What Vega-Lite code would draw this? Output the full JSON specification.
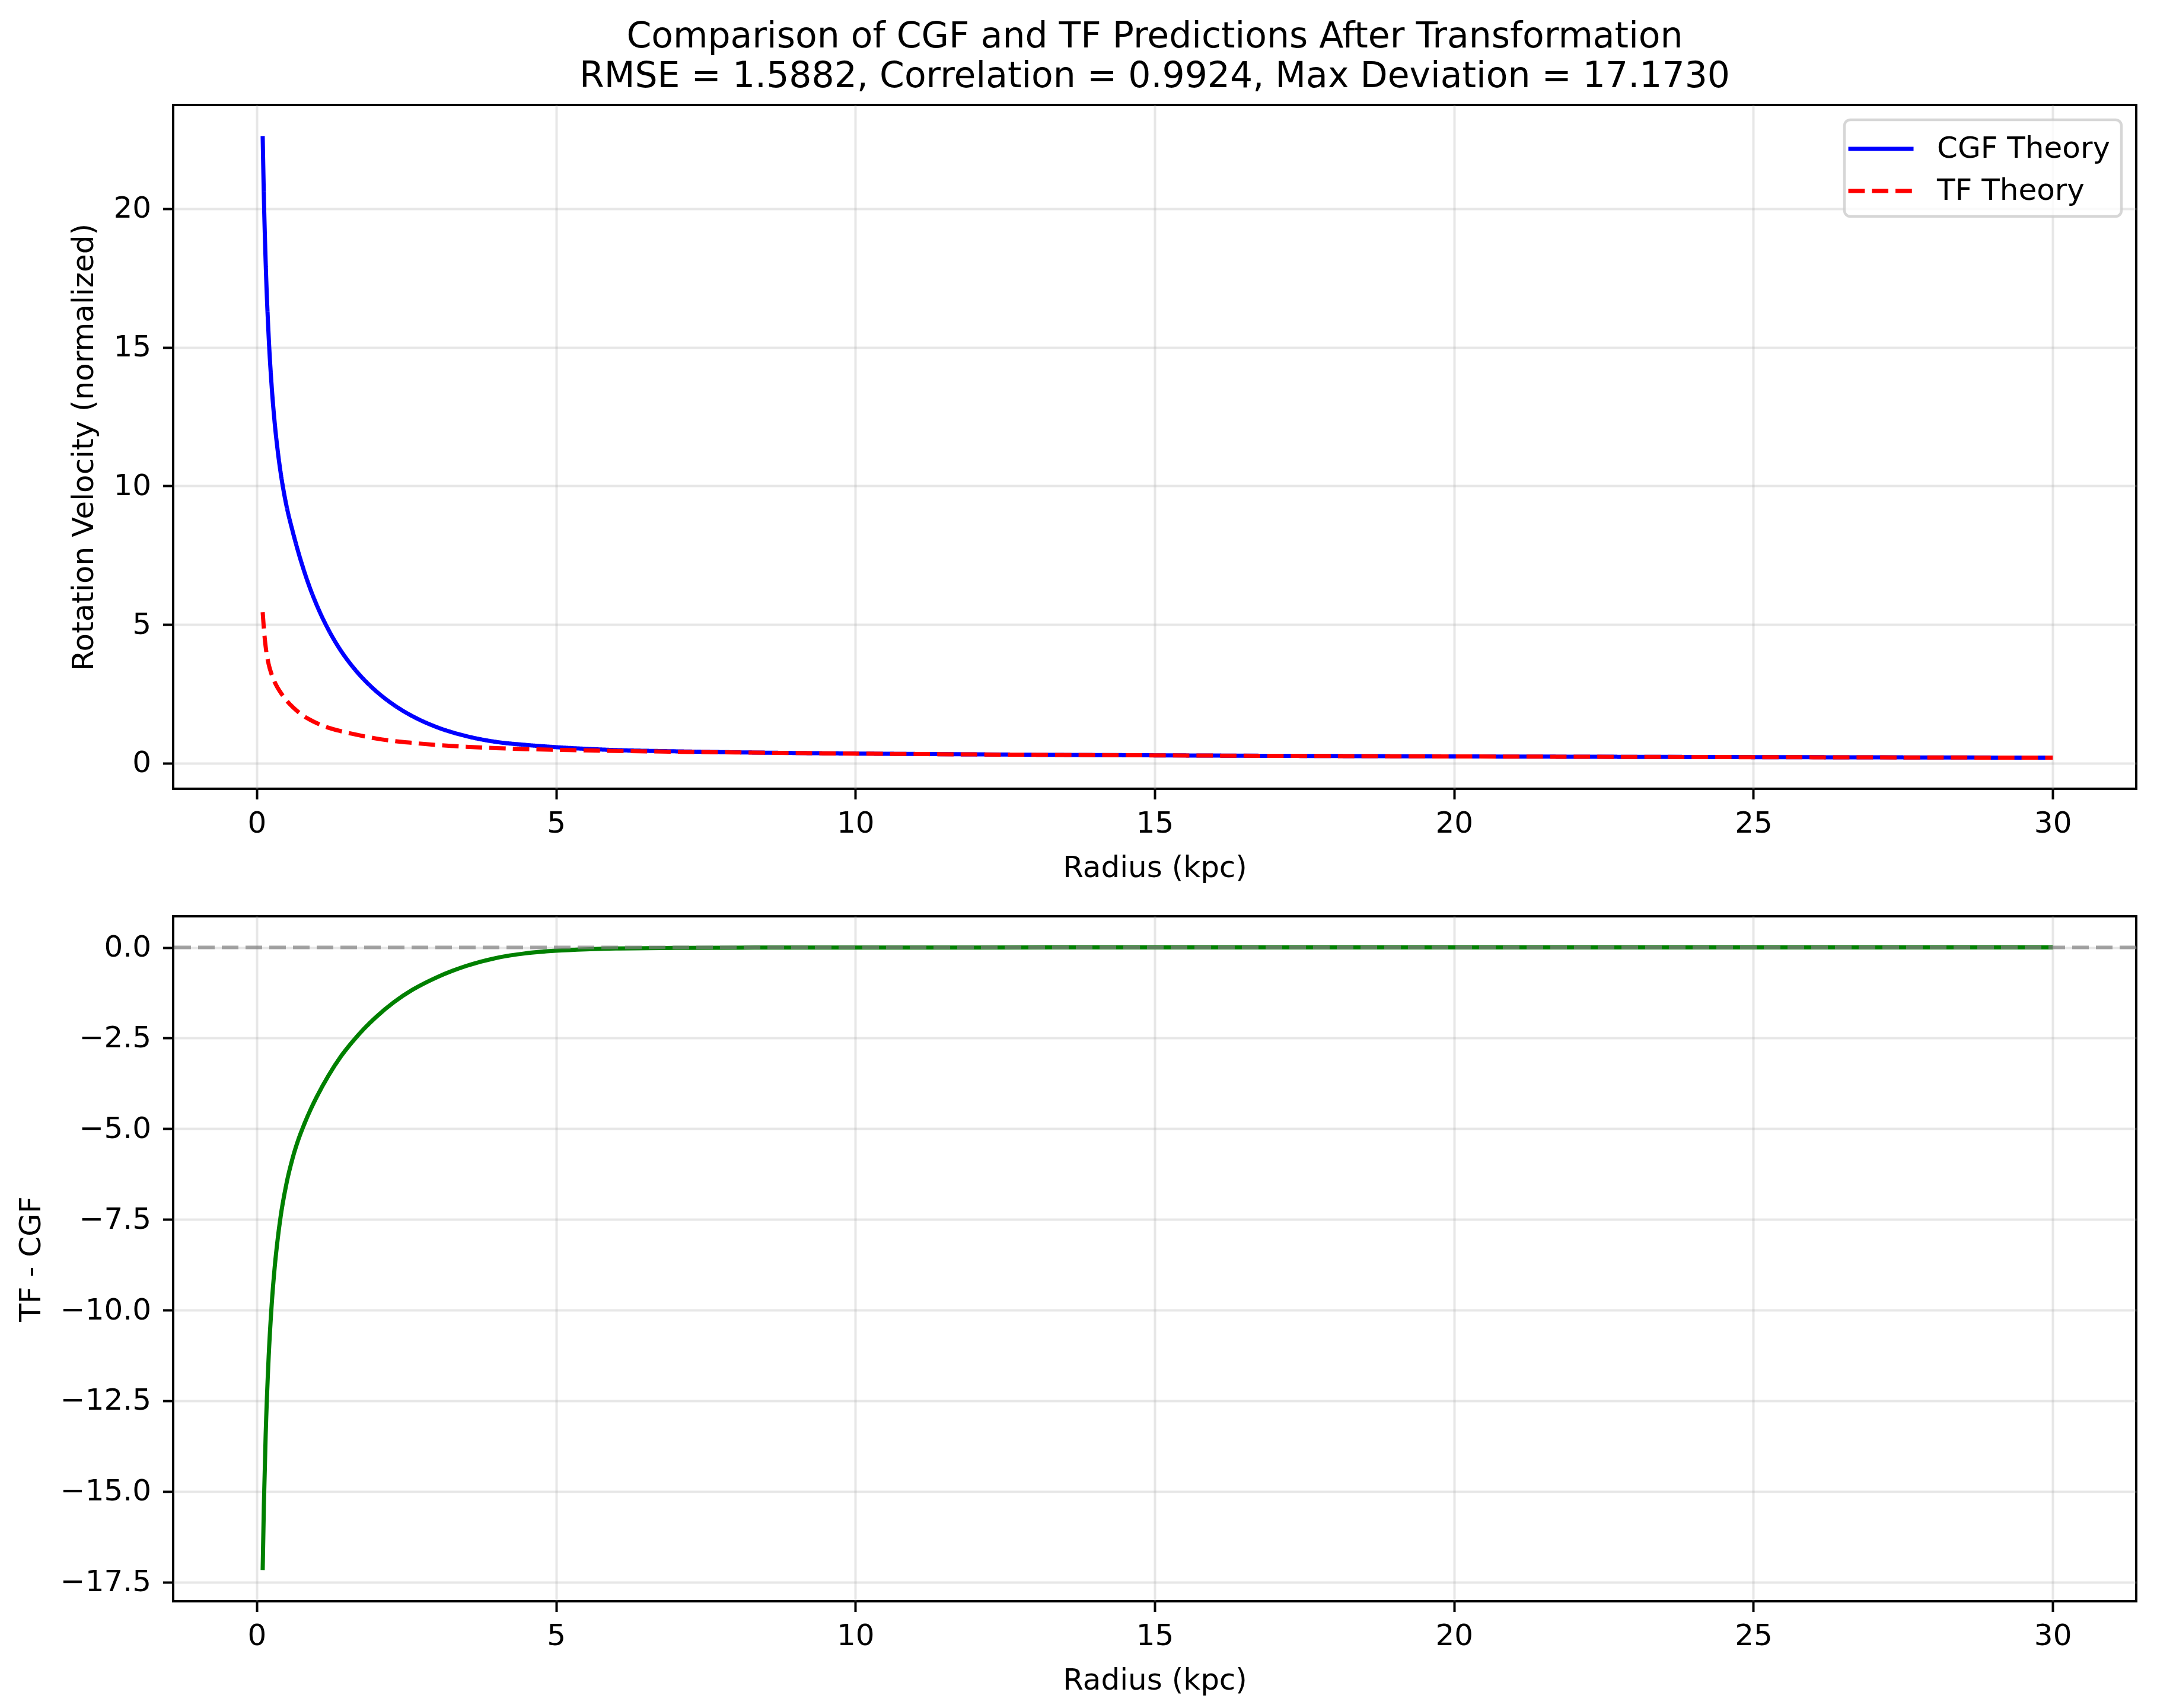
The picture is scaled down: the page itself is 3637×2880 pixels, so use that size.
{
  "$schema": "https://vega.github.io/schema/vega-lite/v6.json",
  "background": "white",
  "padding": {"left": 25, "top": 30, "right": 30, "bottom": 10},
  "spacing": 52,
  "config": {
    "font": "DejaVu Sans",
    "view": {"stroke": "black", "strokeWidth": 4},
    "axis": {
      "domain": false, "grid": true, "gridColor": "#b0b0b0", "gridOpacity": 0.3, "gridWidth": 4,
      "tickColor": "black", "tickWidth": 4, "tickSize": 17.5,
      "labelFont": "DejaVu Sans", "labelFontSize": 50, "labelColor": "black", "labelPadding": 16,
      "labelFlush": false, "labelOverlap": false,
      "titleFont": "DejaVu Sans", "titleFontSize": 50, "titleFontWeight": "normal", "titleColor": "black", "titlePadding": 25
    },
    "axisY": {"labelPadding": 20, "titlePadding": 24}
  },
  "datasets": {
    "curves": [
      {"r": 0.1, "v": 22.62, "series": "CGF Theory"},
      {"r": 0.12, "v": 20.44, "series": "CGF Theory"},
      {"r": 0.15, "v": 18.06, "series": "CGF Theory"},
      {"r": 0.2, "v": 15.39, "series": "CGF Theory"},
      {"r": 0.25, "v": 13.6, "series": "CGF Theory"},
      {"r": 0.3, "v": 12.29, "series": "CGF Theory"},
      {"r": 0.35, "v": 11.29, "series": "CGF Theory"},
      {"r": 0.4, "v": 10.48, "series": "CGF Theory"},
      {"r": 0.45, "v": 9.82, "series": "CGF Theory"},
      {"r": 0.5, "v": 9.26, "series": "CGF Theory"},
      {"r": 0.6, "v": 8.37, "series": "CGF Theory"},
      {"r": 0.7, "v": 7.58, "series": "CGF Theory"},
      {"r": 0.8, "v": 6.88, "series": "CGF Theory"},
      {"r": 0.9, "v": 6.26, "series": "CGF Theory"},
      {"r": 1.0, "v": 5.72, "series": "CGF Theory"},
      {"r": 1.2, "v": 4.81, "series": "CGF Theory"},
      {"r": 1.4, "v": 4.08, "series": "CGF Theory"},
      {"r": 1.6, "v": 3.49, "series": "CGF Theory"},
      {"r": 1.8, "v": 3.0, "series": "CGF Theory"},
      {"r": 2.0, "v": 2.59, "series": "CGF Theory"},
      {"r": 2.3, "v": 2.09, "series": "CGF Theory"},
      {"r": 2.6, "v": 1.7, "series": "CGF Theory"},
      {"r": 3.0, "v": 1.31, "series": "CGF Theory"},
      {"r": 3.5, "v": 0.98, "series": "CGF Theory"},
      {"r": 4.0, "v": 0.77, "series": "CGF Theory"},
      {"r": 4.5, "v": 0.66, "series": "CGF Theory"},
      {"r": 5.0, "v": 0.58, "series": "CGF Theory"},
      {"r": 5.5, "v": 0.52, "series": "CGF Theory"},
      {"r": 6.0, "v": 0.475, "series": "CGF Theory"},
      {"r": 7.0, "v": 0.43, "series": "CGF Theory"},
      {"r": 8.0, "v": 0.395, "series": "CGF Theory"},
      {"r": 9.0, "v": 0.37, "series": "CGF Theory"},
      {"r": 10.0, "v": 0.35, "series": "CGF Theory"},
      {"r": 12.0, "v": 0.32, "series": "CGF Theory"},
      {"r": 14.0, "v": 0.296, "series": "CGF Theory"},
      {"r": 16.0, "v": 0.276, "series": "CGF Theory"},
      {"r": 18.0, "v": 0.26, "series": "CGF Theory"},
      {"r": 20.0, "v": 0.247, "series": "CGF Theory"},
      {"r": 22.0, "v": 0.236, "series": "CGF Theory"},
      {"r": 24.0, "v": 0.226, "series": "CGF Theory"},
      {"r": 26.0, "v": 0.217, "series": "CGF Theory"},
      {"r": 28.0, "v": 0.209, "series": "CGF Theory"},
      {"r": 30.0, "v": 0.202, "series": "CGF Theory"},
      {"r": 0.1, "v": 5.45, "series": "TF Theory"},
      {"r": 0.12, "v": 4.85, "series": "TF Theory"},
      {"r": 0.15, "v": 4.2, "series": "TF Theory"},
      {"r": 0.2, "v": 3.57, "series": "TF Theory"},
      {"r": 0.25, "v": 3.2, "series": "TF Theory"},
      {"r": 0.3, "v": 2.93, "series": "TF Theory"},
      {"r": 0.35, "v": 2.72, "series": "TF Theory"},
      {"r": 0.4, "v": 2.55, "series": "TF Theory"},
      {"r": 0.5, "v": 2.26, "series": "TF Theory"},
      {"r": 0.6, "v": 2.03, "series": "TF Theory"},
      {"r": 0.7, "v": 1.84, "series": "TF Theory"},
      {"r": 0.8, "v": 1.68, "series": "TF Theory"},
      {"r": 0.9, "v": 1.56, "series": "TF Theory"},
      {"r": 1.0, "v": 1.45, "series": "TF Theory"},
      {"r": 1.2, "v": 1.28, "series": "TF Theory"},
      {"r": 1.4, "v": 1.16, "series": "TF Theory"},
      {"r": 1.6, "v": 1.06, "series": "TF Theory"},
      {"r": 1.8, "v": 0.97, "series": "TF Theory"},
      {"r": 2.0, "v": 0.89, "series": "TF Theory"},
      {"r": 2.3, "v": 0.8, "series": "TF Theory"},
      {"r": 2.6, "v": 0.735, "series": "TF Theory"},
      {"r": 3.0, "v": 0.66, "series": "TF Theory"},
      {"r": 3.5, "v": 0.595, "series": "TF Theory"},
      {"r": 4.0, "v": 0.545, "series": "TF Theory"},
      {"r": 4.5, "v": 0.51, "series": "TF Theory"},
      {"r": 5.0, "v": 0.485, "series": "TF Theory"},
      {"r": 5.5, "v": 0.465, "series": "TF Theory"},
      {"r": 6.0, "v": 0.445, "series": "TF Theory"},
      {"r": 7.0, "v": 0.415, "series": "TF Theory"},
      {"r": 8.0, "v": 0.39, "series": "TF Theory"},
      {"r": 9.0, "v": 0.367, "series": "TF Theory"},
      {"r": 10.0, "v": 0.348, "series": "TF Theory"},
      {"r": 12.0, "v": 0.318, "series": "TF Theory"},
      {"r": 14.0, "v": 0.294, "series": "TF Theory"},
      {"r": 16.0, "v": 0.275, "series": "TF Theory"},
      {"r": 18.0, "v": 0.259, "series": "TF Theory"},
      {"r": 20.0, "v": 0.246, "series": "TF Theory"},
      {"r": 22.0, "v": 0.235, "series": "TF Theory"},
      {"r": 24.0, "v": 0.225, "series": "TF Theory"},
      {"r": 26.0, "v": 0.216, "series": "TF Theory"},
      {"r": 28.0, "v": 0.208, "series": "TF Theory"},
      {"r": 30.0, "v": 0.201, "series": "TF Theory"}
    ],
    "diff": [
      {"r": 0.1, "d": -17.17},
      {"r": 0.12, "d": -15.38},
      {"r": 0.15, "d": -13.44},
      {"r": 0.2, "d": -11.29},
      {"r": 0.25, "d": -9.86},
      {"r": 0.3, "d": -8.83},
      {"r": 0.35, "d": -8.05},
      {"r": 0.4, "d": -7.42},
      {"r": 0.5, "d": -6.49},
      {"r": 0.6, "d": -5.81},
      {"r": 0.7, "d": -5.28},
      {"r": 0.8, "d": -4.85},
      {"r": 0.9, "d": -4.47},
      {"r": 1.0, "d": -4.13},
      {"r": 1.2, "d": -3.53},
      {"r": 1.4, "d": -3.02},
      {"r": 1.6, "d": -2.6},
      {"r": 1.8, "d": -2.23},
      {"r": 2.0, "d": -1.91},
      {"r": 2.3, "d": -1.5},
      {"r": 2.6, "d": -1.17},
      {"r": 3.0, "d": -0.83},
      {"r": 3.5, "d": -0.51},
      {"r": 4.0, "d": -0.29},
      {"r": 4.5, "d": -0.16},
      {"r": 5.0, "d": -0.09},
      {"r": 5.5, "d": -0.05},
      {"r": 6.0, "d": -0.028},
      {"r": 7.0, "d": -0.012},
      {"r": 8.0, "d": -0.005},
      {"r": 9.0, "d": -0.003},
      {"r": 10.0, "d": -0.002},
      {"r": 12.0, "d": -0.001},
      {"r": 15.0, "d": 0.0},
      {"r": 20.0, "d": 0.0},
      {"r": 25.0, "d": 0.0},
      {"r": 30.0, "d": 0.0}
    ]
  },
  "vconcat": [
    {
      "width": 3310,
      "height": 1153,
      "title": {
        "text": ["Comparison of CGF and TF Predictions After Transformation", "RMSE = 1.5882, Correlation = 0.9924, Max Deviation = 17.1730"],
        "font": "DejaVu Sans", "fontSize": 60, "fontWeight": "normal", "color": "black",
        "anchor": "middle", "frame": "group", "lineHeight": 67, "offset": 17
      },
      "data": {"name": "curves"},
      "mark": {"type": "line", "strokeWidth": 7, "interpolate": "monotone"},
      "encoding": {
        "x": {"field": "r", "type": "quantitative", "title": "Radius (kpc)",
              "scale": {"domain": [-1.395, 31.395], "nice": false, "zero": false},
              "axis": {"values": [0, 5, 10, 15, 20, 25, 30], "format": "d"}},
        "y": {"field": "v", "type": "quantitative", "title": "Rotation Velocity (normalized)",
              "scale": {"domain": [-0.92, 23.74], "nice": false, "zero": false},
              "axis": {"values": [0, 5, 10, 15, 20], "format": "d"}},
        "color": {"field": "series", "type": "nominal",
                  "scale": {"domain": ["CGF Theory", "TF Theory"], "range": ["#0000ff", "#ff0000"]},
                  "legend": {"title": null, "orient": "top-right", "offset": 25, "padding": 18,
                             "fillColor": "rgba(255,255,255,0.8)", "strokeColor": "rgba(204,204,204,0.8)",
                             "cornerRadius": 10, "labelFont": "DejaVu Sans", "labelFontSize": 50, "labelColor": "black",
                             "labelLimit": 1000,
                             "symbolType": "M-1.545,0H2.455", "symbolSize": 3025, "symbolStrokeWidth": 7,
                             "labelOffset": 76, "rowPadding": 15,
                             "encode": {"legend": {"update": {"strokeWidth": {"value": 4.5}}}}}},
        "strokeDash": {"field": "series", "type": "nominal",
                       "scale": {"domain": ["CGF Theory", "TF Theory"], "range": [[1, 0], [27.75, 12]]}}
      }
    },
    {
      "width": 3310,
      "height": 1155,
      "layer": [
        {
          "data": {"name": "diff"},
          "mark": {"type": "line", "strokeWidth": 7, "color": "#008000", "interpolate": "monotone"},
          "encoding": {
            "x": {"field": "r", "type": "quantitative", "title": "Radius (kpc)",
                  "scale": {"domain": [-1.395, 31.395], "nice": false, "zero": false},
                  "axis": {"values": [0, 5, 10, 15, 20, 25, 30], "format": "d"}},
            "y": {"field": "d", "type": "quantitative", "title": "TF - CGF",
                  "scale": {"domain": [-18.03, 0.86], "nice": false, "zero": false},
                  "axis": {"values": [0, -2.5, -5, -7.5, -10, -12.5, -15, -17.5], "format": ".1f"}}
          }
        },
        {
          "data": {"values": [{}]},
          "mark": {"type": "rule", "color": "gray", "opacity": 0.7, "strokeWidth": 6, "strokeDash": [28, 12]},
          "encoding": {"y": {"datum": 0}}
        }
      ]
    }
  ]
}
